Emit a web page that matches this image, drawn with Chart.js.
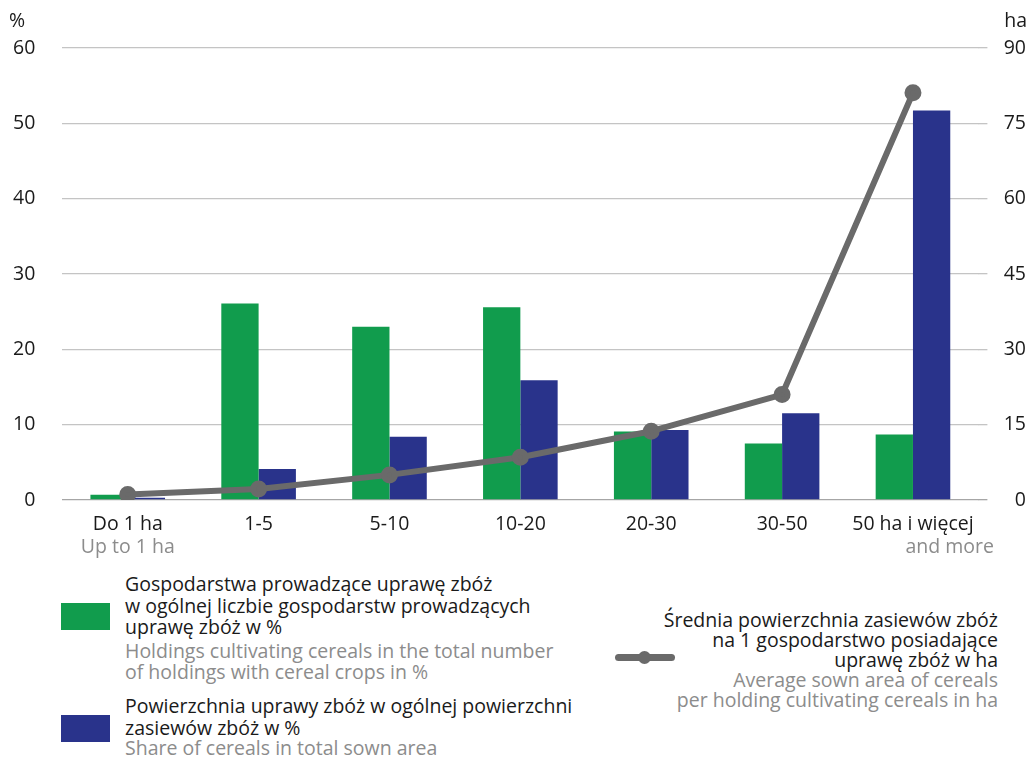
<!DOCTYPE html>
<html>
<head>
<meta charset="utf-8">
<script src="https://cdn.jsdelivr.net/npm/chart.js@4.4.1/dist/chart.umd.min.js"></script>
<style>
  body { margin: 0; background: #fff; font-family: "Open Sans", sans-serif; }
  #wrap { position: relative; width: 1030px; height: 758px; overflow: hidden; }
  #chartBox { position: absolute; left: 0; top: 0; width: 1030px; height: 565px; }
  .leg { position: absolute; font-size: 19.5px; line-height: 21.5px; white-space: nowrap; }
  .pl { color: #1a1a1a; }
  .en { color: #8c8c8c; }
  .sw { position: absolute; width: 49px; height: 27px; }
  .lineSw { position: absolute; left: 615px; top: 654px; width: 60px; height: 7px; border-radius: 4px; background: #6a6a6a; }
  .lineDot { position: absolute; left: 638px; top: 651px; width: 13px; height: 13px; border-radius: 50%; background: #6a6a6a; }
</style>
</head>
<body>
<div id="wrap">
  <div id="chartBox"><canvas id="cerealChart"></canvas></div>

  <div class="sw" style="left:61px;top:603px;background:#119c4d;"></div>
  <div class="leg" style="left:125px;top:573px;">
    <div class="pl">Gospodarstwa prowadzące uprawę zbóż<br>w ogólnej liczbie gospodarstw prowadzących<br>uprawę zbóż w %</div>
    <div class="en" style="margin-top:2px;">Holdings cultivating cereals in the total number<br>of holdings with cereal crops in %</div>
  </div>

  <div class="sw" style="left:61px;top:715px;background:#29338b;"></div>
  <div class="leg" style="left:125px;top:695px;">
    <div class="pl">Powierzchnia uprawy zbóż w ogólnej powierzchni<br>zasiewów zbóż w %</div>
    <div class="en" style="line-height:20px;">Share of cereals in total sown area</div>
  </div>

  <div class="lineSw"></div>
  <div class="lineDot"></div>
  <div class="leg" style="right:32px;top:610px;text-align:right;line-height:20px;">
    <div class="pl">Średnia powierzchnia zasiewów zbóż<br>na 1 gospodarstwo posiadające<br>uprawę zbóż w ha</div>
    <div class="en">Average sown area of cereals<br>per holding cultivating cereals in ha</div>
  </div>
</div>

<script>
const categories = ['Do 1 ha', '1-5', '5-10', '10-20', '20-30', '30-50', '50 ha i więcej'];
const categoriesEn = ['Up to 1 ha', '', '', '', '', '', 'and more'];
const holdingsShare = [0.7, 26.1, 23.0, 25.6, 9.1, 7.5, 8.7];
const areaShare = [0.3, 4.1, 8.4, 15.9, 9.3, 11.5, 51.7];
const avgArea = [1.1, 2.2, 5.0, 8.5, 13.7, 21.0, 81.1];

const FONT = '"Open Sans", sans-serif';
const FSIZE = 19.5;
const gridColor = function(c) { return c.tick && c.tick.value === 0 ? '#a6a6a6' : '#c4c4c4'; };

const extraLabels = {
	id: 'extraLabels',
	afterDraw(chart) {
		const ctx = chart.ctx;
		const xs = chart.scales.x;
		ctx.save();
		ctx.font = FSIZE + 'px ' + FONT;
		ctx.textBaseline = 'middle';
		// unit labels
		ctx.fillStyle = '#1a1a1a';
		ctx.textAlign = 'left';
		ctx.fillText('%', 9, 21);
		ctx.textAlign = 'right';
		ctx.fillText('ha', 1027, 21);
		// english sub-labels under categories
		ctx.fillStyle = '#8c8c8c';
		categoriesEn.forEach(function(t, i) {
			if (!t) return;
			const x = xs.getPixelForValue(i);
			if (i === categoriesEn.length - 1) {
				ctx.textAlign = 'right';
				ctx.fillText(t, x + 81, 547);
			} else {
				ctx.textAlign = 'center';
				ctx.fillText(t, x, 547);
			}
		});
		ctx.restore();
	}
};

const ctx = document.getElementById('cerealChart').getContext('2d');
new Chart(ctx, {
	data: {
		labels: categories,
		datasets: [{
			type: 'line',
			label: 'Średnia powierzchnia zasiewów zbóż na 1 gospodarstwo',
			data: avgArea,
			yAxisID: 'y1',
			borderColor: '#6a6a6a',
			backgroundColor: '#6a6a6a',
			borderWidth: 6,
			pointRadius: 5.5,
			pointHoverRadius: 5.5,
			borderCapStyle: 'round',
			borderJoinStyle: 'round',
			tension: 0,
			order: 0
		}, {
			type: 'bar',
			label: 'Gospodarstwa prowadzące uprawę zbóż',
			data: holdingsShare,
			yAxisID: 'y',
			backgroundColor: '#119c4d',
			categoryPercentage: 0.57,
			barPercentage: 1,
			order: 1
		}, {
			type: 'bar',
			label: 'Powierzchnia uprawy zbóż',
			data: areaShare,
			yAxisID: 'y',
			backgroundColor: '#29338b',
			categoryPercentage: 0.57,
			barPercentage: 1,
			order: 1
		}]
	},
	options: {
		responsive: true,
		maintainAspectRatio: false,
		animation: false,
		layout: { padding: { top: 48, right: 4, left: 0, bottom: 0 } },
		plugins: {
			legend: { display: false },
			tooltip: { enabled: false }
		},
		scales: {
			x: {
				grid: { display: false },
				border: { display: false },
				ticks: {
					color: '#1a1a1a',
					font: { family: FONT, size: FSIZE },
					padding: 5,
					maxRotation: 0,
					autoSkip: false
				},
				afterFit: function(s) { s.height = 65; }
			},
			y: {
				position: 'left',
				min: 0,
				max: 60,
				ticks: {
					stepSize: 10,
					color: '#1a1a1a',
					font: { family: FONT, size: FSIZE },
					padding: 27,
					crossAlign: 'near'
				},
				grid: { color: gridColor, lineWidth: 1.3, drawTicks: false },
				border: { display: false },
				afterFit: function(s) { s.width = 62.3; }
			},
			y1: {
				position: 'right',
				min: 0,
				max: 90,
				ticks: {
					stepSize: 15,
					color: '#1a1a1a',
					font: { family: FONT, size: FSIZE },
					crossAlign: 'far'
				},
				grid: { color: gridColor, lineWidth: 1.3, drawOnChartArea: false, drawTicks: true, tickLength: 9 },
				border: { display: false },
				afterFit: function(s) { s.width = 47.6; }
			}
		}
	},
	plugins: [extraLabels]
});
</script>
</body>
</html>
